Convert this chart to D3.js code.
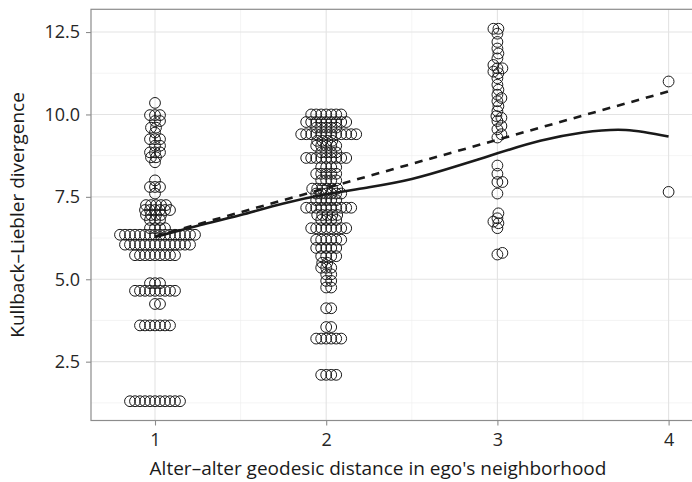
<html>
<head>
  <script src="https://d3js.org/d3.v7.min.js"></script>
  <style>
    body { margin: 0; background: #fff; }
    text { font-family: "Open Sans", sans-serif; }
  </style>
</head>
<body>
  <script>
    // KL divergence values per alter-alter distance, [value, count]
    var group1 = [[1.3,11],[3.6,7],[4.25,2],[4.65,9],[4.88,3],[5.73,9],[6.05,14],[6.35,16],
      [6.55,4],[6.8,3],[6.95,4],[7.1,6],[7.25,5],[7.6,1],[7.8,3],[8.0,1],[8.55,1],[8.7,2],
      [8.85,3],[9.05,2],[9.25,3],[9.45,1],[9.6,2],[9.8,2],[9.98,3],[10.35,1]];
    var group2 = [[2.1,4],[3.2,6],[3.55,2],[4.12,2],[4.75,2],[4.95,2],[5.15,2],[5.35,3],[5.5,2],
      [5.7,4],[5.95,5],[6.2,6],[6.55,8],[6.8,4],[6.95,5],[7.17,10],[7.4,5],[7.6,6],[7.75,6],
      [8.0,4],[8.2,5],[8.4,4],[8.68,9],[8.85,4],[9.05,5],[9.2,4],[9.4,12],[9.6,5],[9.77,9],[10.0,7]];
    var group3 = [[5.75,1],[5.8,1],[6.55,1],[6.7,1],[6.75,1],[6.85,1],[7.0,1],[7.6,1],[7.95,2],
      [8.2,1],[8.45,1],[9.3,1],[9.4,1],[9.55,1],[9.65,1],[9.8,1],[9.9,1],[9.95,1],[10.1,1],
      [10.25,1],[10.4,1],[10.5,1],[10.6,1],[10.75,1],[10.9,1],[11.1,1],[11.25,1],[11.3,1],
      [11.4,2],[11.5,1],[11.7,1],[11.85,1],[12.0,1],[12.2,1],[12.45,1],[12.6,2]];
    var group4 = [[7.65,1],[11.0,1]];
    var groups = [group1, group2, group3, group4];

    // fitted curves
    var loessX = [1, 1.25, 1.5, 1.75, 2, 2.25, 2.5, 2.75, 3, 3.25, 3.5, 3.75, 4];
    var loessY = [6.28, 6.62, 6.95, 7.3, 7.58, 7.79, 8.04, 8.41, 8.82, 9.2, 9.45, 9.53, 9.33];
    var linX = [1, 4];
    var linY = [6.3, 10.7];

    var yTicks = [2.5, 5.0, 7.5, 10.0, 12.5];
    var yMinor = [1.25, 3.75, 6.25, 8.75, 11.25];
    var xTicks = [1, 2, 3, 4];
    var xMinor = [1.5, 2.5, 3.5];

    var width = 692, height = 482;
    var svg = d3.select("body").append("svg")
      .attr("width", width).attr("height", height);

    var x = d3.scaleLinear().domain([1, 4]).range([155, 668.6]);
    var y = d3.scaleLinear().domain([0.715, 13.19]).range([420.5, 9.3]);
    var pLeft = 91, pRight = width + 10, pTop = y.range()[1], pBottom = y.range()[0];

    // grid
    var grid = svg.append("g");
    grid.selectAll(".ymin").data(yMinor).enter().append("line")
      .attr("x1", pLeft).attr("x2", pRight).attr("y1", y).attr("y2", y)
      .attr("stroke", "#ececec").attr("stroke-width", 0.6);
    grid.selectAll(".xmin").data(xMinor).enter().append("line")
      .attr("y1", pTop).attr("y2", pBottom).attr("x1", x).attr("x2", x)
      .attr("stroke", "#ececec").attr("stroke-width", 0.6);
    grid.selectAll(".ymaj").data(yTicks).enter().append("line")
      .attr("x1", pLeft).attr("x2", pRight).attr("y1", y).attr("y2", y)
      .attr("stroke", "#e3e3e3").attr("stroke-width", 1.1);
    grid.selectAll(".xmaj").data(xTicks).enter().append("line")
      .attr("y1", pTop).attr("y2", pBottom).attr("x1", x).attr("x2", x)
      .attr("stroke", "#e3e3e3").attr("stroke-width", 1.1);

    // points, beeswarm layout
    var s = 5;
    var pts = [];
    groups.forEach(function(g, gi) {
      var vals = [];
      g.forEach(function(d) { for (var k = 0; k < d[1]; k++) vals.push(d[0]); });
      vals.sort(d3.ascending);
      var placed = [];
      vals.forEach(function(v) {
        var py = y(v), off = 0;
        for (var k = 0; k < 400; k++) {
          off = (k % 2 ? 1 : -1) * Math.ceil(k / 2) * 0.5;
          var ok = placed.every(function(p) {
            var dx = p[0] - off, dy = p[1] - py;
            return dx * dx + dy * dy >= s * s - 0.01;
          });
          if (ok) break;
        }
        placed.push([off, py]);
        pts.push({ x: x(gi + 1) + off, y: py });
      });
    });
    svg.append("g").selectAll("circle").data(pts).enter().append("circle")
      .attr("cx", function(d) { return d.x; })
      .attr("cy", function(d) { return d.y; })
      .attr("r", 5.4)
      .attr("fill", "none").attr("stroke", "#1a1a1a").attr("stroke-width", 1);

    // lines
    var line = d3.line().x(function(d) { return x(d[0]); }).y(function(d) { return y(d[1]); });
    svg.append("path")
      .datum(loessX.map(function(v, i) { return [v, loessY[i]]; }))
      .attr("d", line.curve(d3.curveNatural))
      .attr("fill", "none").attr("stroke", "#1a1a1a").attr("stroke-width", 2.6);
    svg.append("path")
      .datum(linX.map(function(v, i) { return [v, linY[i]]; }))
      .attr("d", line.curve(d3.curveLinear))
      .attr("fill", "none").attr("stroke", "#1a1a1a").attr("stroke-width", 2.6)
      .attr("stroke-dasharray", "8,7");

    // panel border
    svg.append("rect")
      .attr("x", pLeft).attr("y", pTop).attr("width", pRight - pLeft).attr("height", pBottom - pTop)
      .attr("fill", "none").attr("stroke", "#8c8c8c").attr("stroke-width", 1.2);

    // axes
    var yAxis = svg.append("g").attr("transform", "translate(" + pLeft + ",0)")
      .call(d3.axisLeft(y).tickValues(yTicks).tickFormat(d3.format(".1f")).tickSize(5).tickPadding(6));
    var xAxis = svg.append("g").attr("transform", "translate(0," + pBottom + ")")
      .call(d3.axisBottom(x).tickValues(xTicks).tickFormat(d3.format("d")).tickSize(5).tickPadding(8));
    [yAxis, xAxis].forEach(function(a) {
      a.select(".domain").remove();
      a.selectAll("line").attr("stroke", "#8c8c8c").attr("stroke-width", 1.1);
      a.selectAll("text").attr("fill", "#262626").style("font-size", "18px")
        .style("font-family", "'Open Sans', sans-serif");
    });

    svg.append("text")
      .attr("x", 378).attr("y", 475)
      .attr("text-anchor", "middle").attr("fill", "#1a1a1a")
      .style("font-size", "19px")
      .text("Alter\u2013alter geodesic distance in ego's neighborhood");
    svg.append("text")
      .attr("transform", "translate(24," + ((pTop + pBottom) / 2) + ") rotate(-90)")
      .attr("text-anchor", "middle").attr("fill", "#1a1a1a")
      .style("font-size", "19px")
      .text("Kullback\u2013Liebler divergence");
  </script>
</body>
</html>
